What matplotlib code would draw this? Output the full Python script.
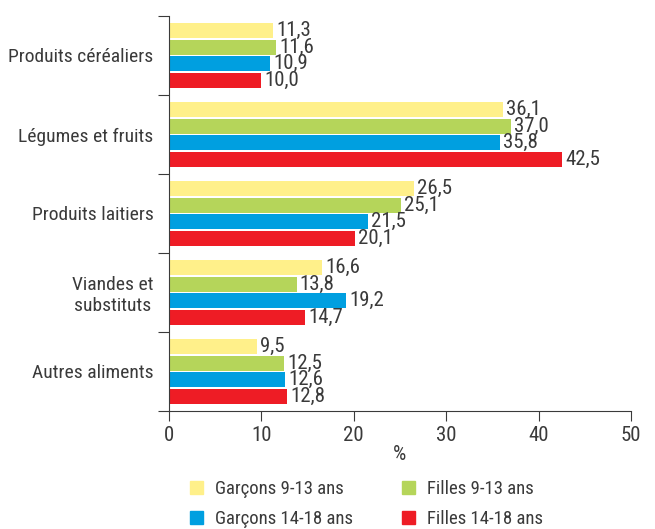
import matplotlib.pyplot as plt
from matplotlib.patches import Patch
import numpy as np

plt.rcParams['font.family'] = ['Roboto Condensed', 'DejaVu Sans']

categories = ['Produits céréaliers', 'Légumes et fruits', 'Produits laitiers',
              'Viandes et\nsubstituts', 'Autres aliments']
series = ['Garçons 9-13 ans', 'Filles 9-13 ans', 'Garçons 14-18 ans', 'Filles 14-18 ans']
garcons_9_13 = [11.3, 36.1, 26.5, 16.6, 9.5]
filles_9_13 = [11.6, 37.0, 25.1, 13.8, 12.5]
garcons_14_18 = [10.9, 35.8, 21.5, 19.2, 12.6]
filles_14_18 = [10.0, 42.5, 20.1, 14.7, 12.8]
colors = ['#FFF08A', '#B5D55A', '#009FE0', '#EE1C25']
txt = '#3a3a3a'

fig = plt.figure(figsize=(6.55, 5.29), dpi=100)
ax = fig.add_axes([169/655, 1 - 411/529, (631-169)/655, (411-16)/529])

y = np.arange(len(categories))
h = 0.19
step = 0.212
data = [garcons_9_13, filles_9_13, garcons_14_18, filles_14_18]
for i, (vals, c) in enumerate(zip(data, colors)):
    pos = y - 1.5*step + i*step
    ax.barh(pos, vals, height=h, color=c)
    for p, v in zip(pos, vals):
        ax.text(v + 0.35, p, f'{v:.1f}'.replace('.', ','), va='center', ha='left',
                fontsize=15, color=txt)

ax.set_xlim(0, 50)
ax.set_ylim(len(categories) - 0.5, -0.5)
ax.set_xticks([0, 10, 20, 30, 40, 50])
ax.set_yticks(np.arange(-0.5, len(categories), 1.0))
ax.set_yticklabels([])
ax.set_yticks(y, minor=True)
ax.set_yticklabels(categories, minor=True, fontsize=14, color=txt,
                   ha='right', multialignment='center')
ax.tick_params(axis='y', which='minor', length=0, pad=11)
ax.tick_params(axis='y', which='major', length=8, color=txt)
ax.tick_params(axis='x', length=7, labelsize=15, labelcolor=txt, color=txt, pad=4)
for s in ['top', 'right']:
    ax.spines[s].set_visible(False)
for s in ['left', 'bottom']:
    ax.spines[s].set_color(txt)
ax.set_xlabel('%', fontsize=15, color=txt, labelpad=0)

handles = [Patch(color=c, label=s) for c, s in zip(colors, series)]
order = [0, 2, 1, 3]
leg = fig.legend(handles=[handles[k] for k in order], ncol=2, loc='upper left',
                 bbox_to_anchor=(190/655, 1 - 480/529),
                 frameon=False, fontsize=13.5, handlelength=0.7, handleheight=0.7,
                 columnspacing=2.6, labelspacing=0.65, handletextpad=0.64,
                 borderpad=0, borderaxespad=0)
for t in leg.get_texts():
    t.set_color(txt)

fig.savefig('out.png', dpi=100)
